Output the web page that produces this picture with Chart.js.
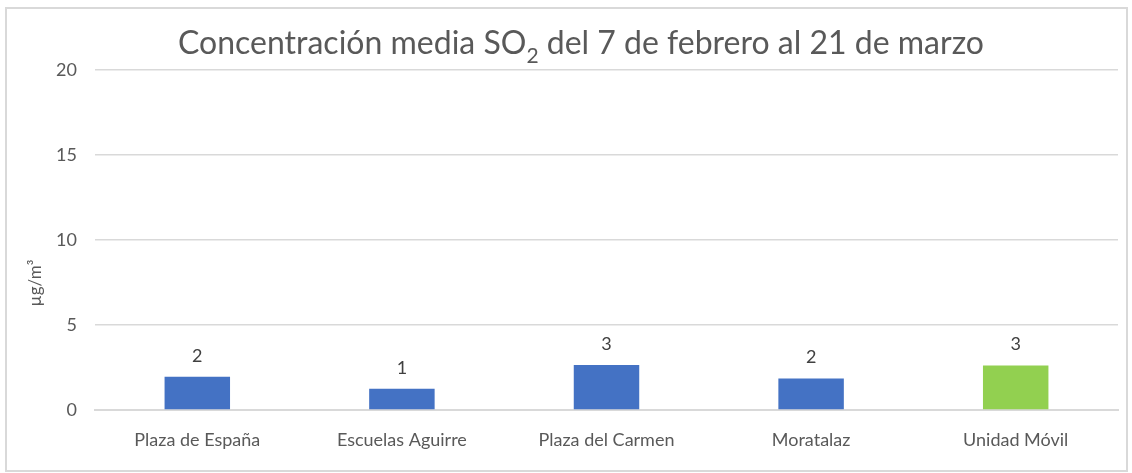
<!DOCTYPE html>
<html>
<head>
<meta charset="utf-8">
<script src="https://cdn.jsdelivr.net/npm/chart.js@4"></script>
<style>
  html, body { margin: 0; padding: 0; background: #fff; }
  #wrap { width: 1132px; height: 473px; }
</style>
</head>
<body>
<div id="wrap"><canvas id="myChart" width="1132" height="473"></canvas></div>
<script>
const stations = ['Plaza de España', 'Escuelas Aguirre', 'Plaza del Carmen', 'Moratalaz', 'Unidad Móvil'];
const so2Values = [1.95, 1.25, 2.65, 1.85, 2.62];
const barColors = ['#4472c4', '#4472c4', '#4472c4', '#4472c4', '#92d050'];
const yTicks = [0, 5, 10, 15, 20];

const textGray = '#595959';

// frame, title with subscript and the y axis title
const frameTitle = {
    id: 'frameTitle',
    beforeDraw(chart) {
        const ctx = chart.ctx;
        ctx.save();
        ctx.fillStyle = '#fff';
        ctx.fillRect(0, 0, chart.width, chart.height);
        ctx.strokeStyle = '#d9d9d9';
        ctx.lineWidth = 2;
        ctx.strokeRect(6, 8, chart.width - 11, chart.height - 10);
        ctx.restore();
    },
    afterDraw(chart) {
        const ctx = chart.ctx;
        const parts = [
            { t: 'Concentración media SO', size: 32, dy: 0 },
            { t: '2', size: 21, dy: 9 },
            { t: ' del 7 de febrero al 21 de marzo', size: 32, dy: 0 }
        ];
        ctx.save();
        ctx.fillStyle = textGray;
        ctx.textBaseline = 'alphabetic';
        ctx.textAlign = 'left';
        let total = 0;
        parts.forEach(p => {
            ctx.font = p.size + 'px Lato';
            p.w = ctx.measureText(p.t).width;
            total += p.w;
        });
        let x = 581 - total / 2;
        parts.forEach(p => {
            ctx.font = p.size + 'px Lato';
            ctx.fillText(p.t, x, 54 + p.dy);
            x += p.w;
        });

        ctx.translate(36, 283);
        ctx.rotate(-Math.PI / 2);
        ctx.font = '17px Lato';
        ctx.textAlign = 'center';
        ctx.textBaseline = 'middle';
        ctx.fillText('µg/m³', 0, 0);
        ctx.restore();
    }
};

// value labels above bars
const barLabels = {
    id: 'barLabels',
    afterDatasetsDraw(chart) {
        const ctx = chart.ctx;
        const meta = chart.getDatasetMeta(0);
        ctx.save();
        ctx.font = '18px Lato';
        ctx.fillStyle = '#404040';
        ctx.textAlign = 'center';
        ctx.textBaseline = 'bottom';
        meta.data.forEach((bar, i) => {
            ctx.fillText(Math.round(so2Values[i]), bar.x, bar.y - 12);
        });
        ctx.restore();
    }
};

new Chart(document.getElementById('myChart'), {
    type: 'bar',
    data: {
        labels: stations,
        datasets: [{
            label: 'SO2',
            data: so2Values,
            backgroundColor: barColors,
            barPercentage: 0.32,
            categoryPercentage: 1
        }]
    },
    options: {
        responsive: false,
        animation: false,
        layout: { padding: { top: 70, right: 14, left: 0, bottom: 0 } },
        plugins: {
            legend: { display: false },
            tooltip: { enabled: false }
        },
        scales: {
            x: {
                grid: { display: false },
                border: { color: '#d9d9d9', width: 2 },
                ticks: { color: textGray, font: { family: 'Lato', size: 18 }, padding: 11 },
                afterFit: s => { s.height = 63; }
            },
            y: {
                min: 0,
                max: 20,
                afterBuildTicks: s => { s.ticks = yTicks.map(v => ({ value: v })); },
                grid: { color: '#d9d9d9', lineWidth: 1.5, drawTicks: false },
                border: { display: false },
                ticks: { color: textGray, font: { family: 'Lato', size: 18 }, padding: 18 },
                afterFit: s => { s.width = 95; }
            }
        }
    },
    plugins: [frameTitle, barLabels]
});
</script>
</body>
</html>
